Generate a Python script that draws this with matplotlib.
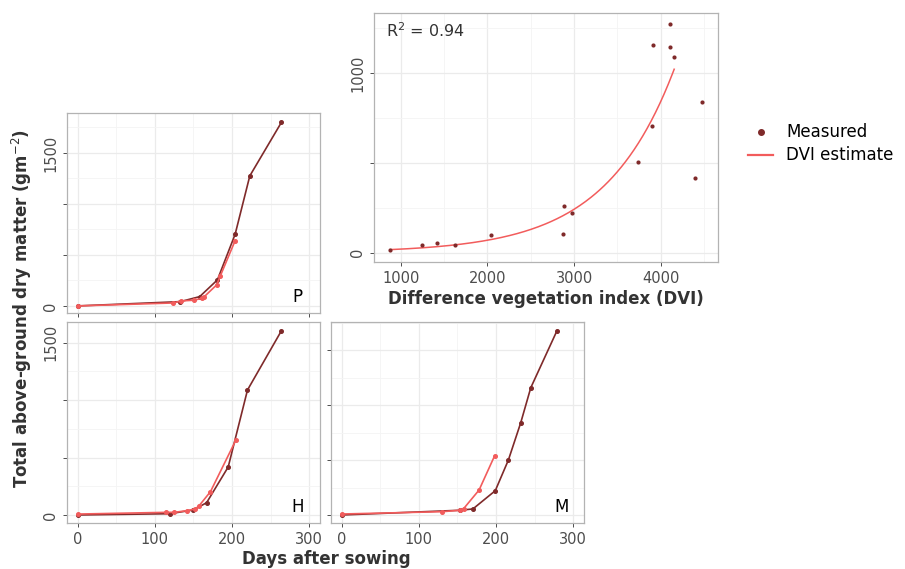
import numpy as np
import matplotlib
matplotlib.use("Agg")
import matplotlib.pyplot as plt
from matplotlib.lines import Line2D
from matplotlib.ticker import MultipleLocator

# colours
MEAS = "#7f2a2a"
EST = "#f25c5c"
GREY = "#4d4d4d"

# ---- P panel (days after sowing, dry matter)
p_meas_days = [0, 133, 158, 181, 204, 223, 264]
p_meas_dm = [0, 42, 91, 255, 703, 1275, 1800]
p_est_days = [0, 124, 134, 151, 161, 164, 180, 185, 204]
p_est_dm = [0, 29, 49, 56, 75, 91, 206, 298, 640]

# ---- H panel
h_meas_days = [0, 119, 150, 167, 195, 220, 264]
h_meas_dm = [0, 11, 44, 107, 418, 1088, 1604]
h_est_days = [0, 115, 125, 142, 152, 157, 172, 205]
h_est_dm = [8, 23, 23, 38, 52, 78, 203, 653]

# ---- M panel
m_meas_days = [0, 153, 170, 199, 216, 232, 245, 279]
m_meas_dm = [0, 43, 55, 221, 500, 839, 1157, 1676]
m_est_days = [0, 130, 153, 158, 178, 198]
m_est_dm = [9, 30, 43, 58, 227, 536]

# ---- DVI scatter
dvi = [873, 1246, 1423, 1631, 2046, 2881, 2873, 2981, 3738, 3900,
       3912, 4104, 4104, 4154, 4392, 4481]
dvi_dm = [13, 41, 54, 45, 97, 261, 106, 222, 503, 706,
          1158, 1276, 1145, 1088, 417, 842]
# fitted exponential model dm = a * exp(b * DVI)
fit_a, fit_b = 5.72, 0.001248
fit_range = (873, 4155)
r2_text = "R$^2$ = 0.94"

fig = plt.figure(figsize=(9.05, 5.69), dpi=100)
fig.patch.set_facecolor("white")


def style(ax, xlim, ylim, ymajor, ylabels, xlabels):
    ax.set_xlim(*xlim)
    ax.grid(True, which="major", color="#ebebeb", lw=0.9)
    ax.grid(True, which="minor", color="#f4f4f4", lw=0.6)
    ax.set_axisbelow(True)
    for s in ax.spines.values():
        s.set_color("#b3b3b3")
        s.set_linewidth(0.9)
    ax.tick_params(which="major", length=3, color="#4d4d4d", width=0.7,
                   labelcolor=GREY, labelsize=10.5)
    ax.tick_params(which="minor", length=0)
    ax.tick_params(axis="y", labelrotation=90)
    ticks = np.arange(0, ylim[1], ymajor)
    ax.set_yticks(ticks)
    ax.set_yticks(np.arange(ymajor / 2, ylim[1], ymajor), minor=True)
    ax.set_yticklabels([str(int(t)) if int(t) in ylabels else "" for t in ticks],
                       va="center")
    ax.set_ylim(*ylim)
    if not xlabels:
        ax.set_xticklabels([])


def growth(ax, md, mv, ed, ev, tag, ylim, xlabels, ylabels):
    ax.xaxis.set_major_locator(MultipleLocator(100))
    ax.xaxis.set_minor_locator(MultipleLocator(50))
    ax.plot(md, mv, color=MEAS, lw=1.2, marker="o", ms=2.6, zorder=3)
    ax.plot(ed, ev, color=EST, lw=1.2, marker="o", ms=2.6, zorder=4)
    style(ax, (-14, 314), ylim, 500, ylabels, xlabels)
    ax.text(0.91, 0.08, tag, transform=ax.transAxes, fontsize=12,
            color="black", ha="center", va="center")


ax_p = fig.add_axes([0.074, 0.450, 0.2796, 0.3515])
growth(ax_p, p_meas_days, p_meas_dm, p_est_days, p_est_dm, "P",
       (-69, 1892), False, (0, 1500))

ax_h = fig.add_axes([0.074, 0.0808, 0.2796, 0.3533])
growth(ax_h, h_meas_days, h_meas_dm, h_est_days, h_est_dm, "H",
       (-70, 1680), True, (0, 1500))

ax_m = fig.add_axes([0.3657, 0.0808, 0.2796, 0.3533])
growth(ax_m, m_meas_days, m_meas_dm, m_est_days, m_est_dm, "M",
       (-73, 1755), True, ())

ax_d = fig.add_axes([0.4133, 0.5395, 0.3801, 0.4376])
ax_d.xaxis.set_major_locator(MultipleLocator(1000))
ax_d.xaxis.set_minor_locator(MultipleLocator(500))
xs = np.linspace(*fit_range, 200)
ax_d.plot(xs, fit_a * np.exp(fit_b * xs), color=EST, lw=1.1, zorder=3)
ax_d.scatter(dvi, dvi_dm, s=9, color=MEAS, zorder=4, linewidths=0)
style(ax_d, (692, 4661), (-52, 1335), 500, (0, 1000), True)
ax_d.text(0.035, 0.93, r2_text, transform=ax_d.transAxes, fontsize=11.5,
          color="#333333", ha="left", va="center")
ax_d.set_xlabel("Difference vegetation index (DVI)", fontsize=12,
                fontweight="bold", color="#333333", labelpad=3)

fig.text(0.024, 0.457, "Total above-ground dry matter (gm$^{-2}$)",
         rotation=90, ha="center", va="center", fontsize=12,
         fontweight="bold", color="#333333")
fig.text(0.361, 0.018, "Days after sowing", ha="center", va="center",
         fontsize=12, fontweight="bold", color="#333333")

handles = [Line2D([], [], ls="none", marker="o", ms=4, color=MEAS),
           Line2D([], [], color=EST, lw=1.6)]
fig.legend(handles, ["Measured", "DVI estimate"], loc="center left",
           bbox_to_anchor=(0.81, 0.747), frameon=False, fontsize=12,
           handlelength=1.5, handletextpad=0.8, labelspacing=0.3)

fig.savefig("out.png", dpi=100, facecolor="white")
